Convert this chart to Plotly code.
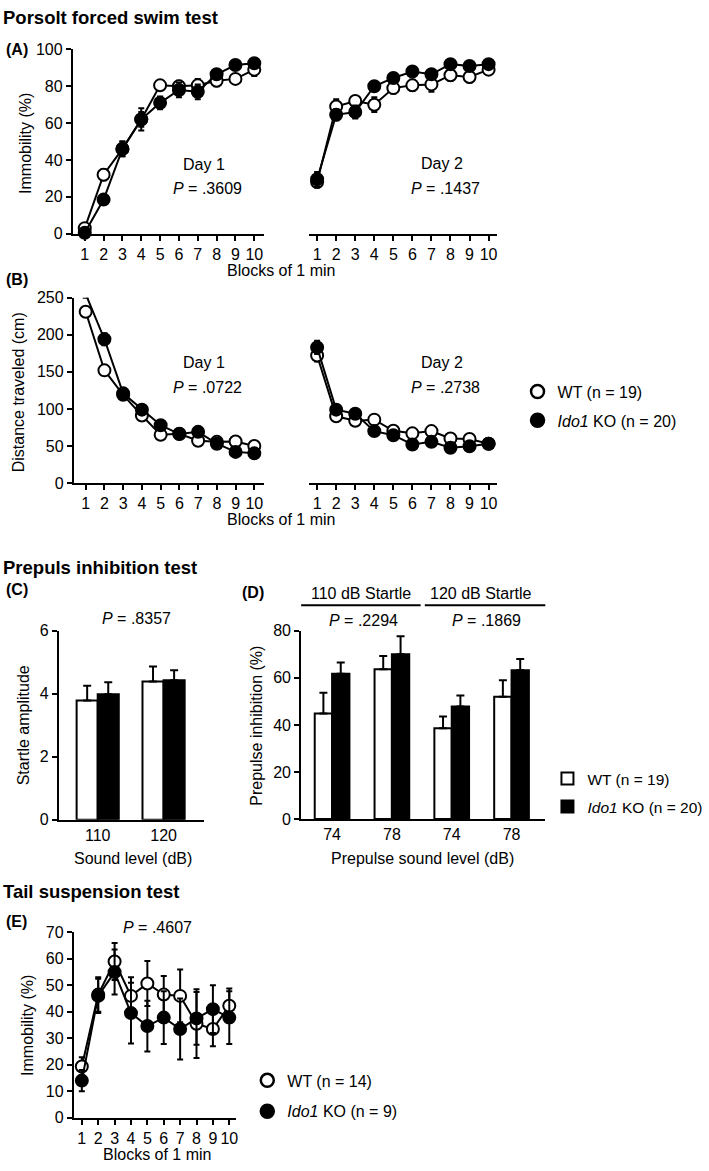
import plotly.graph_objects as go

W, H = 709, 1171

# ---------------- data ----------------
blocks = [1, 2, 3, 4, 5, 6, 7, 8, 9, 10]

# (A) Porsolt immobility (%)
a_day1_wt = [3, 32, 46, 62, 80.5, 80, 80.5, 83, 84, 89]
a_day1_wt_err = [1.5, 3, 4, 4, 2.5, 3, 3.5, 3, 2.5, 3.5]
a_day1_ko = [0.5, 18.5, 46, 62, 71, 78, 77, 86.5, 91.5, 92.5]
a_day1_ko_err = [1, 2, 4, 6, 3.5, 4, 4, 2.5, 2, 2]
a_day2_wt = [28, 69, 72, 70, 79, 80.5, 81, 86, 85, 89]
a_day2_wt_err = [3, 4, 2.5, 4, 3, 3, 4, 3, 3, 2.5]
a_day2_ko = [29.5, 64.5, 66, 80, 84.5, 88, 86.5, 92, 91, 92]
a_day2_ko_err = [4, 3, 3.5, 2.5, 2.5, 2, 2.5, 2, 2, 2]

# (B) distance traveled (cm)
b_day1_wt = [231, 152, 119, 91, 65, 66.5, 57, 55.5, 56, 50]
b_day1_wt_err = [5, 6, 6, 7, 4, 4, 6, 5, 4, 5]
b_day1_ko = [255, 194, 121, 99, 78, 66, 69, 53, 42, 40]
b_day1_ko_err = [5, 8, 7, 6, 5, 4, 5, 5, 4, 4]
b_day2_wt = [172, 90, 84, 85.5, 70.5, 67, 70, 60, 59.5, 53]
b_day2_wt_err = [8, 5, 5, 4, 4, 3, 4, 5, 4, 3]
b_day2_ko = [183, 99, 93.5, 70, 64.5, 52, 55.5, 47.5, 49.5, 53]
b_day2_ko_err = [9, 5, 4, 5, 4, 4, 4, 4, 4, 3]

# (C) startle amplitude
c_levels = ["110", "120"]
c_wt = [3.78, 4.38]
c_wt_err = [0.47, 0.48]
c_ko = [3.98, 4.42]
c_ko_err = [0.38, 0.32]

# (D) prepulse inhibition (%)
d_levels = ["74", "78", "74", "78"]
d_wt = [44.9, 63.7, 38.6, 52.0]
d_wt_err = [8.8, 5.6, 5.0, 7.0]
d_ko = [61.8, 70.0, 47.8, 63.2]
d_ko_err = [4.7, 7.7, 4.7, 4.8]

# (E) tail suspension immobility (%)
e_wt = [19.3, 46.5, 59, 46, 50.7, 46.5, 46, 35.5, 33.5, 42.3]
e_wt_err = [3.5, 6.5, 7, 7, 8.5, 7, 10, 13, 6.5, 6.5]
e_ko = [14, 46, 55, 39.5, 34.6, 37.8, 33.5, 37.5, 41, 37.8]
e_ko_err = [4, 6.5, 8.5, 11.5, 9.6, 10, 11.5, 10, 9, 10]

FONT = "Liberation Sans, Arial, sans-serif"
FS = 16


def px(p):
    return p / W


def py(p):
    return 1 - p / H


fig = go.Figure()


def line_pair(x, wt, wt_err, ko, ko_err, xa, ya):
    for vals, errs, fill in ((wt, wt_err, "white"), (ko, ko_err, "black")):
        fig.add_trace(go.Scatter(
            x=x, y=vals, mode="lines+markers", xaxis=xa, yaxis=ya,
            line=dict(color="black", width=2),
            marker=dict(size=12, color=fill, line=dict(color="black", width=2)),
            error_y=dict(type="data", array=errs, visible=True, color="black",
                         thickness=2, width=3),
            cliponaxis=False, showlegend=False, hoverinfo="skip"))


line_pair(blocks, a_day1_wt, a_day1_wt_err, a_day1_ko, a_day1_ko_err, "x", "y")
line_pair(blocks, a_day2_wt, a_day2_wt_err, a_day2_ko, a_day2_ko_err, "x2", "y2")
line_pair(blocks, b_day1_wt, b_day1_wt_err, b_day1_ko, b_day1_ko_err, "x3", "y3")
line_pair(blocks, b_day2_wt, b_day2_wt_err, b_day2_ko, b_day2_ko_err, "x4", "y4")
line_pair(blocks, e_wt, e_wt_err, e_ko, e_ko_err, "x7", "y7")


def bar_pair(n, wt, wt_err, ko, ko_err, xa, ya, width, legend):
    xs = list(range(n))
    for vals, errs, fill, name, off in ((wt, wt_err, "white", "WT (n = 19)", -width),
                                         (ko, ko_err, "black", "<i>Ido1</i> KO (n = 20)", 0)):
        fig.add_trace(go.Bar(
            x=xs, y=vals, xaxis=xa, yaxis=ya, width=width, offset=off,
            marker=dict(color=fill, line=dict(color="black", width=2)),
            error_y=dict(type="data", symmetric=False, array=errs,
                         arrayminus=[0] * n, color="black", thickness=2, width=4),
            name=name, legend=legend, showlegend=legend is not None,
            legendgroup=name + (legend or ""), hoverinfo="skip"))


bar_pair(len(c_levels), c_wt, c_wt_err, c_ko, c_ko_err, "x5", "y5", 0.32, None)
bar_pair(len(d_levels), d_wt, d_wt_err, d_ko, d_ko_err, "x6", "y6", 0.29, "legend2")

# legend-only circle entries
for lg, names in (("legend", ["WT (n = 19)", "<i>Ido1</i> KO (n = 20)"]),
                  ("legend3", ["WT (n = 14)", "<i>Ido1</i> KO (n = 9)"])):
    for name, fill in zip(names, ["white", "black"]):
        fig.add_trace(go.Scatter(
            x=[None], y=[None], mode="markers", name=name, legend=lg,
            legendgroup=name + lg,
            marker=dict(size=13, color=fill, line=dict(color="black", width=2.5)),
            xaxis="x", yaxis="y"))

axis_common = dict(showline=True, linecolor="black", linewidth=2, ticks="outside",
                   ticklen=5, tickwidth=2, tickcolor="black", showgrid=False,
                   zeroline=False, tickfont=dict(family=FONT, size=FS, color="black"),
                   fixedrange=True)


def xa(dom, rng, anchor, **kw):
    d = dict(axis_common)
    d.update(domain=[px(dom[0]), px(dom[1])], range=rng, anchor=anchor)
    d.update(kw)
    return d


def ya(dom, rng, anchor, **kw):
    d = dict(axis_common)
    d.update(domain=[py(dom[0]), py(dom[1])], range=rng, anchor=anchor)
    d.update(kw)
    return d


layout = dict(
    width=W, height=H, margin=dict(l=0, r=0, t=0, b=0),
    paper_bgcolor="white", plot_bgcolor="white",
    font=dict(family=FONT, size=FS, color="black"),
    barmode="overlay",
    xaxis=xa((73, 265), [0.365, 10.53], "y", tickvals=blocks),
    yaxis=ya((229, 42), [0, 100], "x", tickvals=[0, 20, 40, 60, 80, 100]),
    xaxis2=xa((310, 498), [0.58, 10.42], "y2", tickvals=blocks),
    yaxis2=ya((229, 42), [0, 100], "x2", visible=False),
    xaxis3=xa((74, 265), [0.365, 10.53], "y3", tickvals=blocks),
    yaxis3=ya((482, 294), [0, 250], "x3", tickvals=[0, 50, 100, 150, 200, 250]),
    xaxis4=xa((310, 498), [0.58, 10.42], "y4", tickvals=blocks),
    yaxis4=ya((482, 294), [0, 250], "x4", visible=False),
    xaxis5=xa((59, 205), [-0.59, 1.62], "y5", tickvals=[0, 1], ticktext=c_levels, ticks=""),
    yaxis5=ya((823.7, 631.7), [0, 6], "x5", tickvals=[0, 2, 4, 6]),
    xaxis6=xa((302, 547), [-0.517, 3.567], "y6", tickvals=[0, 1, 2, 3], ticktext=d_levels, ticks=""),
    yaxis6=ya((823, 632), [0, 80], "x6", tickvals=[0, 20, 40, 60, 80]),
    xaxis7=xa((74, 237), [0.51, 10.43], "y7", tickvals=blocks),
    yaxis7=ya((1126, 938), [0, 70], "x7", tickvals=[0, 10, 20, 30, 40, 50, 60, 70]),
)

leg_common = dict(bgcolor="rgba(0,0,0,0)", borderwidth=0, xanchor="left", yanchor="top",
                  font=dict(family=FONT, size=FS, color="black"),
                  traceorder="grouped", tracegroupgap=5, itemclick=False, itemdoubleclick=False)
layout["legend"] = dict(leg_common, x=px(519), y=py(372))
layout["legend2"] = dict(leg_common, x=px(549), y=py(765), font=dict(family=FONT, size=15.5, color="black"))
layout["legend3"] = dict(leg_common, x=px(248), y=py(1071), tracegroupgap=7)
fig.update_layout(**layout)

anns = []


def txt(x, y, s, size=FS, bold=False, anchor="center", angle=0):
    if bold:
        s = "<b>" + s + "</b>"
    anns.append(dict(x=px(x), y=py(y), xref="paper", yref="paper", text=s,
                     showarrow=False, xanchor=anchor, yanchor="middle",
                     textangle=angle, font=dict(family=FONT, size=size, color="black")))


txt(1, 10, "Porsolt forced swim test", size=18.5, bold=True, anchor="left")
txt(4, 42, "(A)", bold=True, anchor="left")
txt(25, 137, "Immobility (%)", angle=-90)
txt(205, 159, "Day 1")
txt(208, 183, "<i>P</i> = .3609")
txt(443, 158, "Day 2")
txt(447, 183, "<i>P</i> = .1437")
txt(282, 266, "Blocks of 1 min")

txt(4, 275, "(B)", bold=True, anchor="left")
txt(18, 390, "Distance traveled (cm)", angle=-90)
txt(205, 360, "Day 1")
txt(208, 385, "<i>P</i> = .0722")
txt(443, 360, "Day 2")
txt(447, 385, "<i>P</i> = .2738")
txt(282, 519, "Blocks of 1 min")

txt(1, 568, "Prepuls inhibition test", size=18.5, bold=True, anchor="left")
txt(4, 590, "(C)", bold=True, anchor="left")
txt(137, 620, "<i>P</i> = .8357")
txt(23, 728, "Startle amplitude", angle=-90)
txt(133, 863, "Sound level (dB)")

txt(241, 593, "(D)", bold=True, anchor="left")
txt(362, 594, "110 dB Startle")
txt(482, 594, "120 dB Startle")
txt(365, 622, "<i>P</i> = .2294")
txt(488, 622, "<i>P</i> = .1869")
txt(257, 728, "Prepulse inhibition (%)", angle=-90)
txt(424, 863, "Prepulse sound level (dB)")

txt(1, 897, "Tail suspension test", size=18.5, bold=True, anchor="left")
txt(4, 927, "(E)", bold=True, anchor="left")
txt(158, 933, "<i>P</i> = .4607")
txt(27, 1032, "Immobility (%)", angle=-90)
txt(157, 1163, "Blocks of 1 min")

fig.update_layout(annotations=anns)

# header lines above panel D groups
for x0, x1 in ((-0.53, 1.48), (1.55, 3.57)):
    fig.add_shape(type="line", xref="x6", yref="paper", x0=x0, x1=x1,
                  y0=py(606), y1=py(606), line=dict(color="black", width=2))

fig.write_html("out.html", config=dict(displayModeBar=False, staticPlot=True),
               post_script="document.body.style.margin='0';document.body.style.overflow='hidden';")
